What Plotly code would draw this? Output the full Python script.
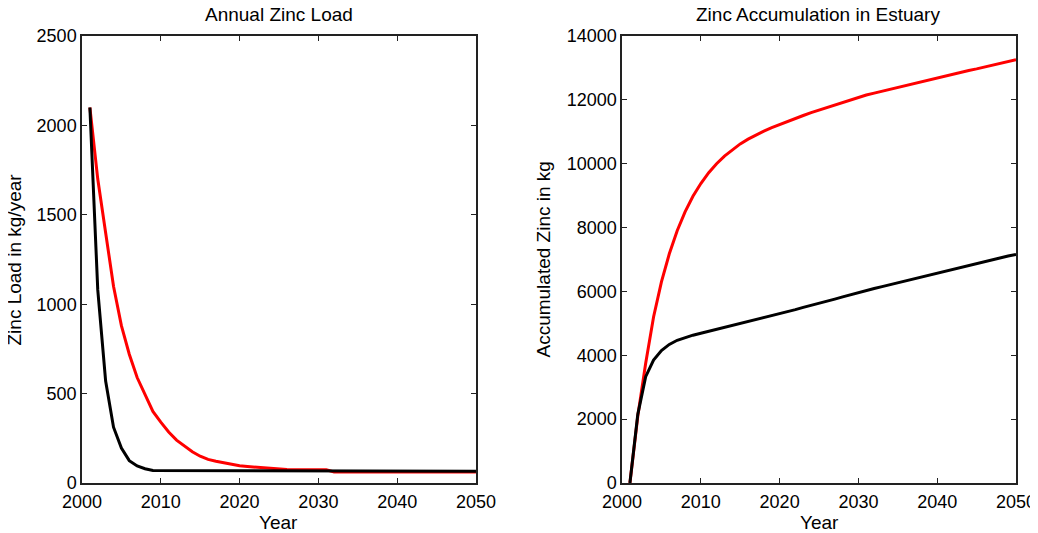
import plotly.graph_objects as go

years = list(range(2001, 2051))

# Annual zinc load (kg/year)
load_red = [2100, 1700, 1400, 1100, 880, 720, 590, 490, 400, 340,
            285, 240, 205, 175, 150, 132, 122, 112, 104, 96,
            92, 88, 84, 80, 76, 75, 74, 74, 74, 74,
            74, 62, 62, 62, 62, 62, 62, 62, 62, 62,
            62, 62, 62, 62, 62, 62, 62, 62, 62, 62]
load_black = [2100, 1080, 570, 312, 195, 125, 95, 80, 70, 70,
              66, 66, 66, 66, 66, 66, 66, 66, 66, 66,
              66, 66, 66, 66, 66, 66, 66, 66, 66, 66,
              66, 66, 66, 66, 66, 66, 66, 66, 66, 66,
              66, 66, 66, 66, 66, 66, 66, 66, 66, 66]

# Accumulated zinc in estuary (kg)
acc_red = [0, 2100, 3750, 5200, 6300, 7180, 7900, 8490, 8980, 9380,
           9720, 10000, 10240, 10440, 10620, 10770, 10900, 11020, 11130, 11230,
           11330, 11420, 11510, 11600, 11680, 11760, 11840, 11920, 12000, 12080,
           12150, 12210, 12270, 12330, 12390, 12450, 12520, 12580, 12640, 12700,
           12760, 12810, 12860, 12920, 12970, 13030, 13090, 13150, 13200, 13260]
acc_black = [0, 2150, 3330, 3850, 4150, 4340, 4470, 4560, 4630, 4690,
             4750, 4810, 4870, 4930, 4990, 5050, 5110, 5170, 5230, 5290,
             5360, 5430, 5500, 5560, 5630, 5700, 5760, 5830, 5900, 5960,
             6020, 6090, 6150, 6210, 6275, 6340, 6400, 6460, 6530, 6590,
             6650, 6710, 6770, 6820, 6880, 6940, 6990, 7050, 7110, 7160]

FONT = "Liberation Sans, Arial, sans-serif"
FS = 19
TFS = 18
fig = go.Figure()

fig.add_trace(go.Scatter(x=years, y=load_red, mode="lines", line=dict(color="#ff0000", width=3),
                         xaxis="x", yaxis="y", showlegend=False))
fig.add_trace(go.Scatter(x=years, y=load_black, mode="lines", line=dict(color="#000000", width=3),
                         xaxis="x", yaxis="y", showlegend=False))
fig.add_trace(go.Scatter(x=years, y=acc_red, mode="lines", line=dict(color="#ff0000", width=3),
                         xaxis="x2", yaxis="y2", showlegend=False))
fig.add_trace(go.Scatter(x=years, y=acc_black, mode="lines", line=dict(color="#000000", width=3),
                         xaxis="x2", yaxis="y2", showlegend=False))

axis_common = dict(showline=True, linecolor="#222", linewidth=1.5, mirror="ticks",
                   ticks="inside", ticklen=5, tickwidth=1, tickcolor="#222",
                   showgrid=False, zeroline=False, tickformat="d",
                   tickfont=dict(family=FONT, size=TFS, color="black"))

fig.update_layout(
    width=1040, height=525,
    margin=dict(l=74, r=22, t=28, b=50),
    paper_bgcolor="white", plot_bgcolor="white",
    font=dict(family=FONT, size=FS, color="black"),
    xaxis=dict(domain=[0, 0.4218], range=[2000, 2050], dtick=10, anchor="y",
               ticklabelstandoff=2, **axis_common),
    yaxis=dict(domain=[0, 1], range=[0, 2500], dtick=500, anchor="x", **axis_common),
    xaxis2=dict(domain=[0.5782, 1], range=[2000, 2050], dtick=10, anchor="y2",
                ticklabelstandoff=2, **axis_common),
    yaxis2=dict(domain=[0, 1], range=[0, 14000], dtick=2000, anchor="x2", **axis_common),
)

ann = [
    dict(text="Annual Zinc Load", x=0.2109, y=1.049),
    dict(text="Zinc Accumulation in Estuary", x=0.7875, y=1.049),
    dict(text="Year", x=0.2109, y=-0.089),
    dict(text="Year", x=0.7891, y=-0.089),
    dict(text="Zinc Load in kg/year", x=-0.0728, y=0.50, textangle=-90),
    dict(text="Accumulated Zinc in kg", x=0.4936, y=0.50, textangle=-90),
]
for a in ann:
    fig.add_annotation(xref="paper", yref="paper", showarrow=False,
                       xanchor="center", yanchor="middle",
                       font=dict(family=FONT, size=FS, color="black"), **a)

fig.write_html("out.html")
